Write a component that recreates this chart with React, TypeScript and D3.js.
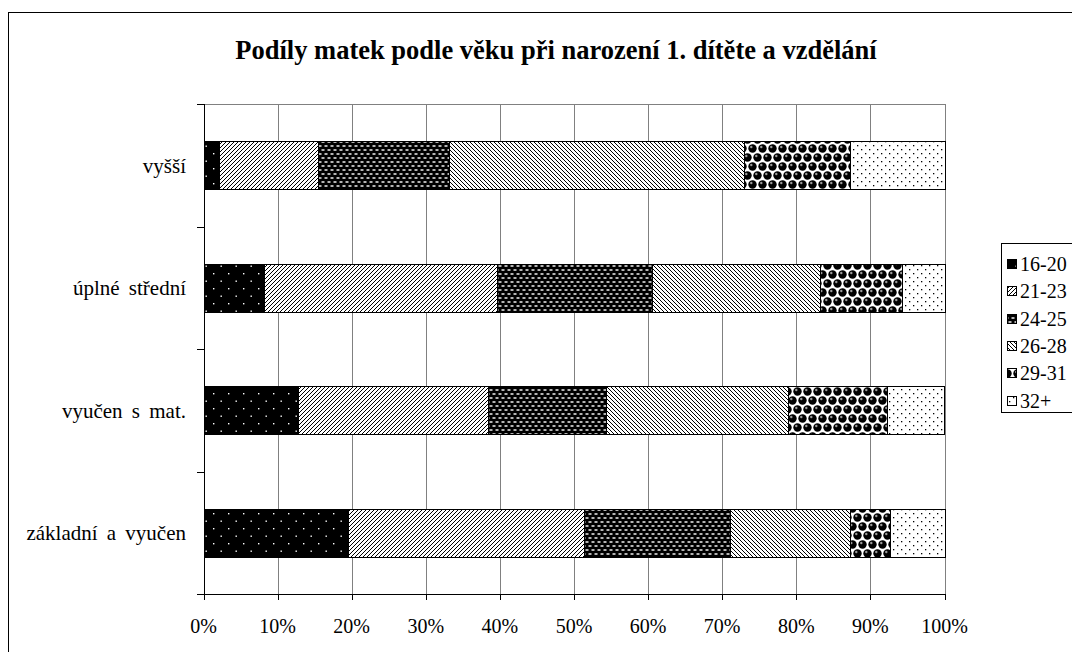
import React from "react";
import * as d3 from "d3";

const categories = ["vyšší", "úplné střední", "vyučen s mat.", "základní a vyučen"];
const ageGroups = ["16-20", "21-23", "24-25", "26-28", "29-31", "32+"];
const s16_20 = [2.1, 8.2, 12.7, 19.5];
const s21_23 = [13.3, 31.4, 25.7, 31.9];
const s24_25 = [17.7, 20.9, 15.9, 19.7];
const s26_28 = [39.9, 22.7, 24.6, 16.1];
const s29_31 = [14.3, 11.1, 13.4, 5.5];
const s32 = [12.7, 5.7, 7.7, 7.3];
const seriesValues = [s16_20, s21_23, s24_25, s26_28, s29_31, s32];
const xTicks = [0, 0.1, 0.2, 0.3, 0.4, 0.5, 0.6, 0.7, 0.8, 0.9, 1];
const title = "Podíly matek podle věku při narození 1. dítěte a vzdělání";

const W = 1072;
const H = 652;
const FONT = "'Liberation Serif', 'Times New Roman', Tinos, serif";

function Patterns() {
  return (
    <defs>
      <pattern id="p0" width="15" height="15" patternUnits="userSpaceOnUse">
        <rect width="15" height="15" fill="#000" />
        <rect x="3" y="3" width="1.4" height="1.4" fill="#fff" />
        <rect x="10.5" y="10.5" width="1.4" height="1.4" fill="#fff" />
      </pattern>
      <pattern id="p1" width="4" height="4" patternUnits="userSpaceOnUse">
        <rect width="4" height="4" fill="#fff" />
        <path d="M-1,1 L1,-1 M0,4 L4,0 M3,5 L5,3" stroke="#000" strokeWidth="1" />
      </pattern>
      <pattern id="p2" width="6" height="8" patternUnits="userSpaceOnUse">
        <rect width="6" height="8" fill="#000" />
        <rect x="0.5" y="1.2" width="3" height="1.6" fill="#e0e0e0" />
        <rect x="3.5" y="5.2" width="3" height="1.6" fill="#e0e0e0" />
        <rect x="-2.5" y="5.2" width="3" height="1.6" fill="#e0e0e0" />
      </pattern>
      <pattern id="p3" width="4" height="4" patternUnits="userSpaceOnUse">
        <rect width="4" height="4" fill="#fff" />
        <path d="M-1,3 L1,5 M0,0 L4,4 M3,-1 L5,1" stroke="#000" strokeWidth="1" />
      </pattern>
      <pattern id="p4" width="10" height="18" patternUnits="userSpaceOnUse">
        <rect width="10" height="18" fill="#fff" />
        <circle cx="2.5" cy="4.5" r="4.2" fill="#000" />
        <circle cx="7.5" cy="13.5" r="4.2" fill="#000" />
        <circle cx="-2.5" cy="13.5" r="4.2" fill="#000" />
        <circle cx="12.5" cy="4.5" r="4.2" fill="#000" />
        <circle cx="2.5" cy="22.5" r="4.2" fill="#000" />
        <circle cx="7.5" cy="-4.5" r="4.2" fill="#000" />
        <circle cx="1.3" cy="3.0" r="1.2" fill="#999" />
        <circle cx="6.3" cy="12.0" r="1.2" fill="#999" />
      </pattern>
      <pattern id="p5" width="8" height="8" patternUnits="userSpaceOnUse">
        <rect width="8" height="8" fill="#fff" />
        <rect x="1" y="1" width="1.3" height="1.3" fill="#000" />
        <rect x="5" y="5" width="1.3" height="1.3" fill="#000" />
      </pattern>
    </defs>
  );
}

export default function App() {
  const rows = categories.map((c, i) => {
    const r: any = { cat: c };
    ageGroups.forEach((g, j) => (r[g] = seriesValues[j][i]));
    return r;
  });
  const stack = d3.stack<any>().keys(ageGroups).offset(d3.stackOffsetExpand);
  const layers = stack(rows);

  const x = d3.scaleLinear().domain([0, 1]).range([203.5, 944.5]);
  const plotTop = 104;
  const plotBottom = 594;
  const pad = 0.608;
  const y = d3
    .scaleBand<string>()
    .domain(categories)
    .range([plotTop, plotBottom])
    .paddingInner(pad)
    .paddingOuter(pad / 2);
  const step = y.step();
  const px = (v: number) => Math.round(v) + 0.5;

  const legendX = 1001;
  const legendTop = 243;
  const legendStep = 27.3;

  return (
    <svg
      width={W}
      height={H}
      style={{ position: "absolute", left: 0, top: 0, background: "#fff", fontFamily: FONT }}
    >
      <Patterns />
      <rect x={0} y={0} width={W} height={H} fill="#fff" />
      <rect x={8.5} y={12.5} width={W + 20} height={H + 20} fill="none" stroke="#000" strokeWidth={1} />
      <text x={556} y={59} textAnchor="middle" fontSize={26.5} fontWeight="bold" style={{ fontFamily: FONT }}>
        {title}
      </text>

      {/* gridlines */}
      {xTicks.map((t) => (
        <line key={"g" + t} x1={px(x(t))} x2={px(x(t))} y1={plotTop} y2={plotBottom} stroke="#808080" strokeWidth={1} />
      ))}
      <line x1={px(x(0))} x2={px(x(1))} y1={plotTop + 0.5} y2={plotTop + 0.5} stroke="#808080" />

      {/* bars */}
      {layers.map((layer, li) => (
        <g key={layer.key}>
          {layer.map((d: any, i: number) => (
            <rect
              key={i}
              x={px(x(d[0]))}
              y={Math.round(y(categories[i])!) + 0.5}
              width={px(x(d[1])) - px(x(d[0]))}
              height={Math.round(y.bandwidth())}
              fill={`url(#p${li})`}
              stroke="#000"
              strokeWidth={1}
            />
          ))}
        </g>
      ))}

      {/* axes */}
      <line x1={px(x(0))} x2={px(x(0))} y1={plotTop} y2={plotBottom} stroke="#000" />
      <line x1={px(x(0))} x2={px(x(1)) + 0.5} y1={plotBottom + 0.5} y2={plotBottom + 0.5} stroke="#000" />
      {d3.range(categories.length + 1).map((i) => (
        <line
          key={"yt" + i}
          x1={197}
          x2={px(x(0))}
          y1={Math.round(plotTop + i * step) + 0.5}
          y2={Math.round(plotTop + i * step) + 0.5}
          stroke="#000"
        />
      ))}
      {xTicks.map((t) => (
        <g key={"xt" + t}>
          <line x1={px(x(t))} x2={px(x(t))} y1={plotBottom} y2={plotBottom + 6} stroke="#000" />
          <text x={x(t)} y={633} textAnchor="middle" fontSize={20} style={{ fontFamily: FONT }}>
            {d3.format(".0%")(t)}
          </text>
        </g>
      ))}
      {categories.map((c) => (
        <text
          key={c}
          x={186}
          y={y(c)! + y.bandwidth() / 2}
          dy="0.35em"
          textAnchor="end"
          fontSize={21}
          style={{ fontFamily: FONT, wordSpacing: "4px" }}
        >
          {c}
        </text>
      ))}

      {/* legend */}
      <rect x={legendX + 0.5} y={legendTop + 0.5} width={120} height={169} fill="#fff" stroke="#000" />
      {ageGroups.map((g, i) => {
        const cy = legendTop + 21 + i * legendStep;
        return (
          <g key={g}>
            <rect x={1007.5} y={Math.round(cy - 5) + 0.5} width={9} height={9} fill={`url(#p${i})`} stroke="#000" />
            <text x={1020} y={cy} dy="0.35em" fontSize={20} style={{ fontFamily: FONT }}>
              {g}
            </text>
          </g>
        );
      })}
    </svg>
  );
}
